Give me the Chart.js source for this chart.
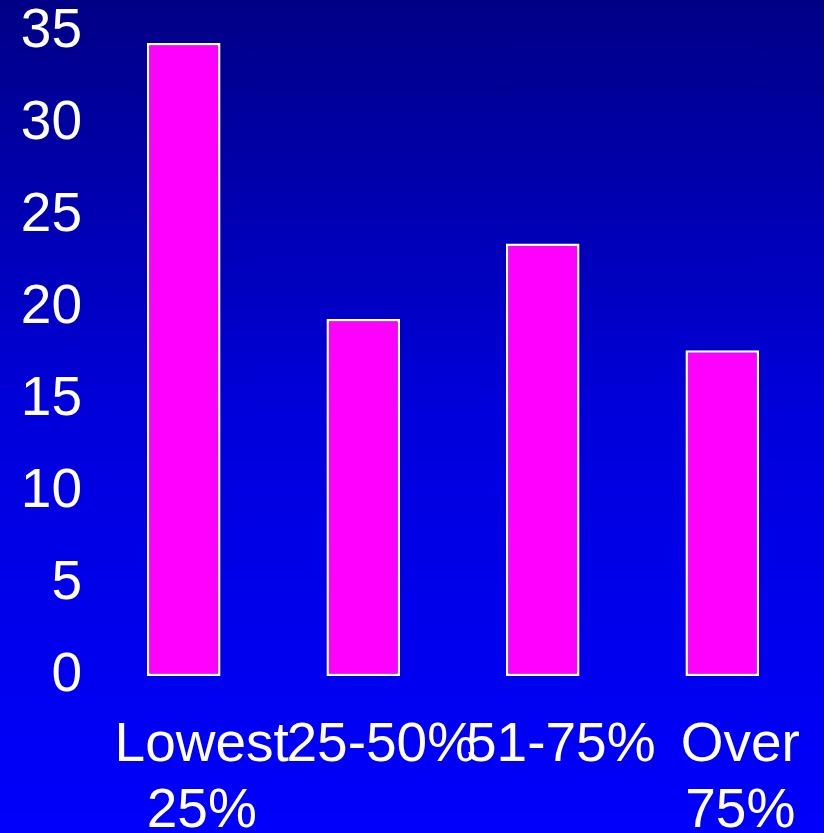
<!DOCTYPE html>
<html>
<head>
<meta charset="utf-8">
<title>Bar chart</title>
<script src="https://cdn.jsdelivr.net/npm/chart.js@4/dist/chart.umd.min.js"></script>
<style>
  html, body { margin: 0; padding: 0; }
  body {
    width: 824px; height: 833px; overflow: hidden;
    background: linear-gradient(to bottom, #000086 0%, #0000dc 50%, #0000fc 100%);
  }
  #wrap { position: relative; width: 824px; height: 833px; }
</style>
</head>
<body>
<div id="wrap"><canvas id="chart"></canvas></div>
<script>
// Categories and their values
const categories = [["Lowest", "25%"], "25-50%", "51-75%", ["Over", "75%"]];
const values = [34.4, 19.4, 23.5, 17.7];
// Y axis range
const yMin = 0;
const yMax = 35;
const yStep = 5;

const fontFamily = "'Liberation Sans', Arial, sans-serif";

new Chart(document.getElementById('chart'), {
  type: 'bar',
  data: {
    labels: categories,
    datasets: [{
      data: values,
      backgroundColor: '#ff00ff',
      borderColor: '#ffffff',
      borderWidth: 2.5,
      borderSkipped: false,
      categoryPercentage: 1,
      barPercentage: 0.41
    }]
  },
  options: {
    responsive: true,
    maintainAspectRatio: false,
    animation: false,
    layout: { padding: { left: 0, right: 12, top: 0, bottom: 0 } },
    plugins: {
      legend: { display: false },
      tooltip: { enabled: false }
    },
    scales: {
      x: {
        grid: { display: false, drawTicks: false },
        border: { display: false },
        ticks: {
          color: '#ffffff',
          font: { family: fontFamily, size: 55 },
          maxRotation: 0,
          minRotation: 0,
          autoSkip: false,
          padding: 37,
          labelOffset: 18
        },
        afterFit(scale) { scale.height = 157; }
      },
      y: {
        min: yMin,
        max: yMax,
        grid: { display: false, drawTicks: false },
        border: { display: false },
        ticks: {
          stepSize: yStep,
          color: '#ffffff',
          font: { family: fontFamily, size: 55 },
          padding: 12
        },
        afterFit(scale) {
          scale.width = 94;
          scale.paddingTop = 32;
        }
      }
    }
  }
});
</script>
</body>
</html>
